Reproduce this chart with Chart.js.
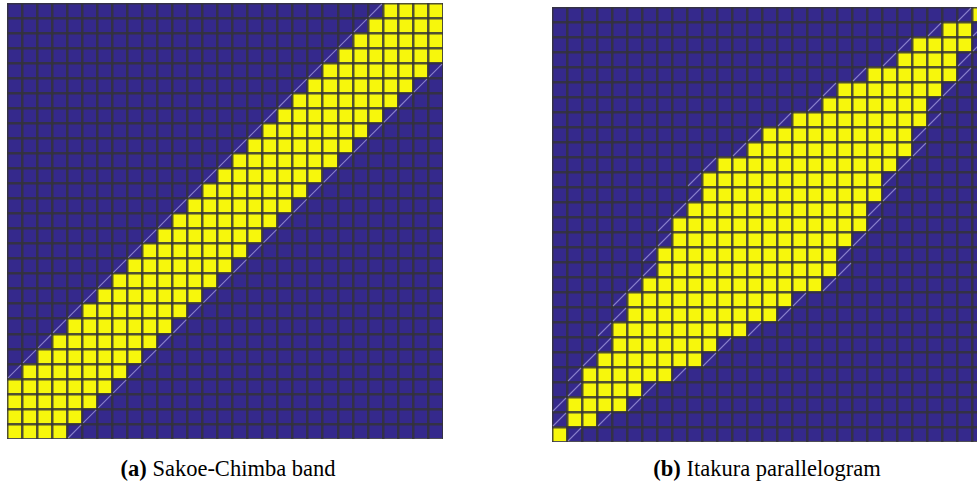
<!DOCTYPE html>
<html>
<head>
<meta charset="utf-8">
<script src="https://cdn.jsdelivr.net/npm/chart.js@4/dist/chart.umd.min.js"></script>
<style>
  html, body { margin: 0; padding: 0; background: #fff; width: 977px; height: 484px; overflow: hidden; position: relative; }
  .panel { position: absolute; }
  #panelA { left: 7px; top: 3px; width: 436px; height: 436px; }
  #panelB { left: 552px; top: 7px; width: 435px; height: 435px; }
  .panel canvas { filter: blur(0.5px); }
  .cap { position: absolute; top: 458px; line-height: 22px; font-family: "Liberation Serif", "Times New Roman", serif;
         font-size: 22.5px; color: #000; white-space: nowrap; transform: translateX(-50%); }
  .cap b { font-weight: bold; }
</style>
</head>
<body>
<div class="panel" id="panelA"><canvas id="chartA" width="436" height="436"></canvas></div>
<div class="panel" id="panelB"><canvas id="chartB" width="435" height="435"></canvas></div>
<div class="cap" style="left:228px"><b>(a)</b> Sakoe-Chimba band</div>
<div class="cap" style="left:767px"><b>(b)</b> Itakura parallelogram</div>

<script>
// Warping window on a 29 x 29 cost grid. Rows are listed from the bottom row (0) upward;
// each row allows the columns from its start index to its end index (inclusive).
const gridSize = 29;

// Sakoe-Chiba band, radius 3
const sakoeStart = [0, 0, 0, 0, 1, 2, 3, 4, 5, 6, 7, 8, 9, 10, 11, 12, 13, 14, 15, 16, 17, 18, 19, 20, 21, 22, 23, 24, 25];
const sakoeEnd   = [3, 4, 5, 6, 7, 8, 9, 10, 11, 12, 13, 14, 15, 16, 17, 18, 19, 20, 21, 22, 23, 24, 25, 26, 27, 28, 28, 28, 28];

// Itakura parallelogram
const itakuraStart = [0, 1, 1, 2, 2, 3, 4, 4, 5, 5, 6, 7, 7, 8, 8, 9, 10, 10, 11, 13, 14, 16, 18, 19, 21, 23, 24, 26, 28];
const itakuraEnd   = [0, 2, 4, 5, 7, 9, 10, 12, 14, 15, 17, 18, 18, 19, 20, 20, 21, 21, 22, 23, 23, 24, 24, 25, 26, 26, 27, 27, 28];

const columnLabels = Array.from({ length: gridSize }, (_, i) => String(i));
const rowTicks = Array.from({ length: gridSize + 1 }, (_, i) => i);

const INSIDE = '#f7f70c';
const OUTSIDE = '#35298c';
const GRID = 'rgba(52, 50, 58, 0.85)';
const EDGE = 'rgba(205, 200, 255, 0.55)';

// Faint diagonal through the cells that border the window on either side
const borderDiagonals = {
  id: 'borderDiagonals',
  afterDraw(chart, args, opts) {
    const { ctx, chartArea, scales } = chart;
    const xs = scales.x, ys = scales.y;
    const cellW = chartArea.width / gridSize;
    ctx.save();
    ctx.beginPath();
    ctx.rect(chartArea.left, chartArea.top, chartArea.width, chartArea.height);
    ctx.clip();
    ctx.strokeStyle = EDGE;
    ctx.lineWidth = 1.1;
    opts.start.forEach((s, r) => {
      const e = opts.end[r];
      [s - 1, e + 1].forEach(c => {
        if (c < 0 || c >= gridSize) return;
        const cx = xs.getPixelForValue(c);
        const x0 = cx - cellW / 2, x1 = cx + cellW / 2;
        const y0 = ys.getPixelForValue(r), y1 = ys.getPixelForValue(r + 1);
        ctx.beginPath();
        ctx.moveTo(x0 + 1, y0 - 1);
        ctx.lineTo(x1 - 1, y1 + 1);
        ctx.stroke();
      });
    });
    ctx.restore();
  }
};

function windowChart(canvasId, start, end) {
  const datasets = rowTicks.slice(0, gridSize).map(r => ({
    data: columnLabels.map(() => [r, r + 1]),
    backgroundColor: columnLabels.map((_, c) => (c >= start[r] && c <= end[r]) ? INSIDE : OUTSIDE),
    borderWidth: 0,
    grouped: false,
    barPercentage: 1,
    categoryPercentage: 1
  }));

  const gridOpts = { display: true, color: GRID, lineWidth: 2.5, z: 1, drawTicks: false };

  return new Chart(document.getElementById(canvasId), {
    type: 'bar',
    data: { labels: columnLabels, datasets },
    options: {
      responsive: false,
      animation: false,
      devicePixelRatio: 1,
      layout: { padding: 0 },
      plugins: {
        legend: { display: false },
        tooltip: { enabled: false },
        borderDiagonals: { start, end }
      },
      scales: {
        x: {
          type: 'category',
          offset: true,
          grid: { ...gridOpts, offset: true },
          ticks: { display: false },
          border: { display: false }
        },
        y: {
          type: 'linear',
          min: 0,
          max: gridSize,
          afterBuildTicks: scale => { scale.ticks = rowTicks.map(v => ({ value: v })); },
          grid: gridOpts,
          ticks: { display: false },
          border: { display: false }
        }
      }
    },
    plugins: [borderDiagonals]
  });
}

windowChart('chartA', sakoeStart, sakoeEnd);
windowChart('chartB', itakuraStart, itakuraEnd);
</script>
</body>
</html>
